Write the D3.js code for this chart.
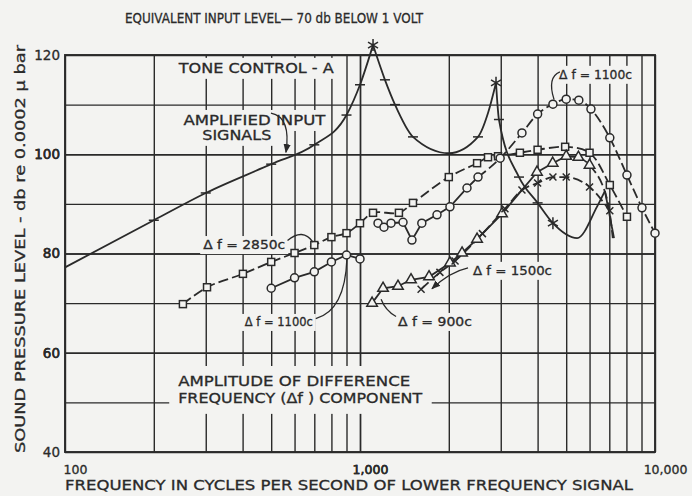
<!DOCTYPE html>
<html>
<head>
<meta charset="utf-8">
<script src="https://cdn.jsdelivr.net/npm/d3@7"></script>
<style>
  body { margin: 0; background: #f3f3f1; }
  text { font-family: "DejaVu Sans", sans-serif; fill: #2a2a2a; stroke: #2a2a2a; stroke-width: 0.3px; }
</style>
</head>
<body>
<svg width="692" height="496"></svg>
<script>
// tone control A, amplified input signals
var toneFreq  = [100, 200, 300, 500, 700, 900, 1000, 1107, 1215, 1314, 1512, 2000, 2512, 2716, 2891, 2958, 3459, 4000, 4508, 5445, 6355, 6764, 7263];
var toneLevel = [77.2, 86.7, 92.2, 98.0, 101.9, 107.9, 114, 122, 115, 110, 103.5, 100.2, 103.5, 108.3, 114.4, 107, 95.4, 90.2, 86.1, 83.1, 89.4, 92.6, 83.1];
var toneTicks = [200, 300, 500, 700, 900, 1000, 1215, 1314, 1512, 2512, 2958, 3459, 4000];
var toneStars = [1107, 2891, 4508];
var tonePeaks = [1107, 2891, 6764];

// delta f = 2850c (squares)
var sqFreq  = [251, 303, 401, 500, 600, 700, 800, 900, 1000, 1107, 1355, 1512, 2000, 2494, 2716, 2937, 3484, 4000, 4960, 6000, 7028, 8034];
var sqLevel = [69.8, 73.2, 75.9, 78.3, 80.1, 81.7, 83.3, 84.1, 86.1, 88.2, 88.2, 90.2, 95.4, 98.2, 99.4, 99.6, 100.3, 100.9, 101.5, 100.3, 93.8, 87.4];

// delta f = 1100c (circles), low segment and high segment
var cLoFreq  = [500, 600, 700, 800, 900, 1000];
var cLoLevel = [73.0, 75.1, 76.3, 78.3, 79.7, 78.9];
var cHiFreq  = [1151, 1206, 1274, 1399, 1500, 1620, 1824, 2018, 2305, 2512, 2986, 3540, 4000, 4508, 5000, 5518, 6065, 7028, 8034, 9034, 10000];
var cHiLevel = [86.1, 85.3, 86.1, 86.3, 82.7, 86.1, 87.8, 89.4, 93.2, 95.4, 99.2, 104.3, 108.1, 110.1, 111.1, 110.9, 109.1, 103.3, 95.8, 89.2, 84.1];

// delta f = 900c (triangles)
var triFreq  = [1099, 1197, 1345, 1489, 1714, 2018, 2218, 2494, 3030, 3981, 4500, 5000, 5500, 6000, 6930, 7192];
var triLevel = [70.0, 73.0, 73.4, 74.7, 75.3, 78.1, 80.1, 82.9, 88.0, 96.4, 98.2, 99.6, 99.4, 97.8, 90.2, 83.1];

// delta f = 1500c (crosses)
var xFreq  = [1611, 1866, 2100, 2600, 3100, 3540, 4000, 4508, 5000, 6000, 7028];
var xLevel = [72.8, 76.2, 78.5, 84.0, 89.0, 92.8, 94.2, 95.4, 95.4, 93.4, 88.6];

var gridFreq = [200, 300, 400, 500, 600, 700, 800, 900, 1000, 2000, 3000, 4000, 5000, 6000, 7000, 8000, 9000];
var gridLevel = [50, 60, 70, 80, 90, 100, 110];
var xTickLabels = {100: '100', 1000: '1,000', 10000: '10,000'};
var yTickLabels = [40, 60, 80, 100, 120];

var ink = '#2a2a2a', bg = '#f3f3f1';
var svg = d3.select('svg');
var x = d3.scaleLog().domain([100, 10000]).range([65, 655]);
var y = d3.scaleLinear().domain([40, 120]).range([452, 55]);

function pts(fs, vs) { return fs.map(function(f, i) { return [f, vs[i]]; }); }

svg.append('rect').attr('width', 692).attr('height', 496).attr('fill', bg);

// grid through the axes
var gx = svg.append('g').attr('transform', 'translate(0,452)')
    .call(d3.axisBottom(x).tickValues(gridFreq.concat([100, 1000, 10000])).tickSize(-(452 - 55))
        .tickFormat(function(d) { return xTickLabels[d] || ''; }));
gx.select('.domain').remove();
gx.selectAll('line').attr('stroke', ink).attr('stroke-width', 1.4);
gx.selectAll('text').attr('y', 13).attr('dx', 10).attr('font-size', 12.5)
    .attr('font-family', 'DejaVu Sans').attr('fill', ink);

var gy = svg.append('g').attr('transform', 'translate(65,0)')
    .call(d3.axisLeft(y).tickValues(gridLevel.concat(yTickLabels)).tickSize(-(655 - 65)).tickPadding(5)
        .tickFormat(function(d) { return yTickLabels.indexOf(d) >= 0 ? d : ''; }));
gy.select('.domain').remove();
gy.selectAll('line').attr('stroke', ink).attr('stroke-width', 1.4);
gy.selectAll('text').attr('font-size', 13.5).attr('font-family', 'DejaVu Sans').attr('fill', ink);

svg.append('rect').attr('x', 65).attr('y', 55).attr('width', 590).attr('height', 397)
    .attr('fill', 'none').attr('stroke', ink).attr('stroke-width', 1.9);

var gBox = svg.append('g');
var gLine = svg.append('g');
var gMark = svg.append('g');
var gText = svg.append('g');

// labels with knocked-out grid behind
function label(txt, f, v, len, size, pad) {
    var t = gText.append('text').attr('x', x(f)).attr('y', y(v)).attr('font-size', size)
        .attr('textLength', len).attr('lengthAdjust', 'spacingAndGlyphs').text(txt);
    var b = t.node().getBBox();
    gBox.append('rect').attr('x', b.x - pad).attr('y', b.y - pad + 2)
        .attr('width', b.width + 2 * pad).attr('height', b.height + 2 * pad - 3).attr('fill', bg);
}
label('TONE CONTROL - A', 243, 116.4, 155, 14, 4);
label('AMPLIFIED INPUT', 252, 105.9, 142, 14, 4);
label('SIGNALS', 292, 102.9, 69, 14, 4);
label('Δ f = 2850c', 294, 80.9, 82, 12.5, 3);
label('Δ f = 1100c', 407, 65.4, 68, 12, 3);
label('Δ f = 1500c', 2415, 75.7, 79, 12.5, 3);
label('Δ f = 900c', 1345, 65.4, 74, 12.5, 3);
label('Δ f = 1100c', 4730, 115.2, 73, 12.5, 3);
label('AMPLITUDE  OF  DIFFERENCE', 242, 53.3, 232, 14, 9);
label('FREQUENCY  (Δf )  COMPONENT', 242, 49.9, 244, 14, 9);

// titles
svg.append('text').attr('x', 125).attr('y', 23).attr('font-size', 14)
    .attr('textLength', 298).attr('lengthAdjust', 'spacingAndGlyphs')
    .text('EQUIVALENT  INPUT  LEVEL— 70 db BELOW 1 VOLT');
svg.append('text').attr('x', 65).attr('y', 490).attr('font-size', 14)
    .attr('textLength', 568).attr('lengthAdjust', 'spacingAndGlyphs')
    .text('FREQUENCY  IN  CYCLES  PER  SECOND  OF  LOWER  FREQUENCY  SIGNAL');
svg.append('text').attr('transform', 'translate(25,453) rotate(-90)').attr('font-size', 14)
    .attr('textLength', 408).attr('lengthAdjust', 'spacingAndGlyphs')
    .text('SOUND  PRESSURE  LEVEL - db  re  0.0002 μ bar');

// curves
var line = d3.line().x(function(d) { return x(d[0]); }).y(function(d) { return y(d[1]); });
var smooth = d3.line().x(function(d) { return x(d[0]); }).y(function(d) { return y(d[1]); })
    .curve(d3.curveMonotoneX);

function draw(data, gen, dash) {
    gLine.append('path').datum(data).attr('d', gen).attr('fill', 'none')
        .attr('stroke', ink).attr('stroke-width', 1.8).attr('stroke-dasharray', dash || null);
}
function split(data, at) {
    return [data.filter(function(d) { return d[0] <= at; }), data.filter(function(d) { return d[0] >= at; })];
}

var tone = pts(toneFreq, toneLevel);
var cuts = [100].concat(tonePeaks, [10000]);
for (var i = 0; i < cuts.length - 1; i++) {
    draw(tone.filter(function(d) { return d[0] >= cuts[i] && d[0] <= cuts[i + 1]; }), smooth);
}

var sq = pts(sqFreq, sqLevel);
draw(sq, d3.line().x(function(d) { return x(d[0]); }).y(function(d) { return y(d[1]); }).curve(d3.curveCatmullRom), '10,4');

var cLo = pts(cLoFreq, cLoLevel);
draw(cLo, line);

var cHi = split(pts(cHiFreq, cHiLevel), 2512);
draw(cHi[0], line);
draw(cHi[1], smooth, '10,4');

var tri = split(pts(triFreq, triLevel), 5500);
draw(tri[0], line);
draw(tri[1], smooth, '10,4');

var xs = pts(xFreq, xLevel);
draw(xs, smooth, '10,4');

// markers
function at(data, f) { return data.filter(function(d) { return d[0] === f; })[0]; }
function markSel(data, fn) {
    data.forEach(function(d) { fn(gMark.append('g').attr('transform', 'translate(' + x(d[0]) + ',' + y(d[1]) + ')')); });
}
function stroke(s) { return s.attr('stroke', ink).attr('stroke-width', 1.5).attr('fill', 'none'); }

markSel(toneTicks.map(function(f) { return at(tone, f); }), function(g) {
    stroke(g.append('path').attr('d', 'M-5,0H5'));
});
markSel(toneStars.map(function(f) { return at(tone, f); }), function(g) {
    stroke(g.append('path').attr('d', 'M0,-6V6M-5,-3L5,3M-5,3L5,-3'));
});
markSel(sq, function(g) {
    stroke(g.append('rect').attr('x', -3.5).attr('y', -3.5).attr('width', 7).attr('height', 7)).attr('fill', bg);
});
markSel(cLo.concat(pts(cHiFreq, cHiLevel)), function(g) {
    stroke(g.append('circle').attr('r', 4)).attr('fill', bg);
});
markSel(pts(triFreq, triLevel).slice(0, 14), function(g) {
    stroke(g.append('path').attr('d', d3.symbol(d3.symbolTriangle, 48)())).attr('fill', bg);
});
markSel(xs, function(g) {
    stroke(g.append('path').attr('d', 'M-3.5,-3.5L3.5,3.5M-3.5,3.5L3.5,-3.5'));
});

// leaders
svg.append('defs').append('marker').attr('id', 'arr').attr('viewBox', '0 0 10 10')
    .attr('refX', 9).attr('refY', 5).attr('markerWidth', 7).attr('markerHeight', 7).attr('orient', 'auto')
    .append('path').attr('d', 'M0,1L10,5L0,9Z').attr('fill', ink);

function leader(p0, c, p1, arrow) {
    gText.append('path')
        .attr('d', 'M' + x(p0[0]) + ',' + y(p0[1]) + 'Q' + x(c[0]) + ',' + y(c[1]) + ' ' + x(p1[0]) + ',' + y(p1[1]))
        .attr('fill', 'none').attr('stroke', ink).attr('stroke-width', 1.3)
        .attr('marker-end', arrow ? 'url(#arr)' : null);
}
leader([499, 108.3], [585, 107.5], [561, 100.4], true);
leader([568, 82.6], [640, 85.2], [693, 82.3], false);
leader([708, 66.9], [890, 68.5], [903, 79.0], false);
leader([2324, 77.1], [2018, 76.3], [1754, 72.9], true);
leader([1325, 67.3], [1217, 68.6], [1179, 70.8], false);
leader([4760, 116.6], [4300, 115.5], [4549, 111.0], false);
</script>
</body>
</html>
